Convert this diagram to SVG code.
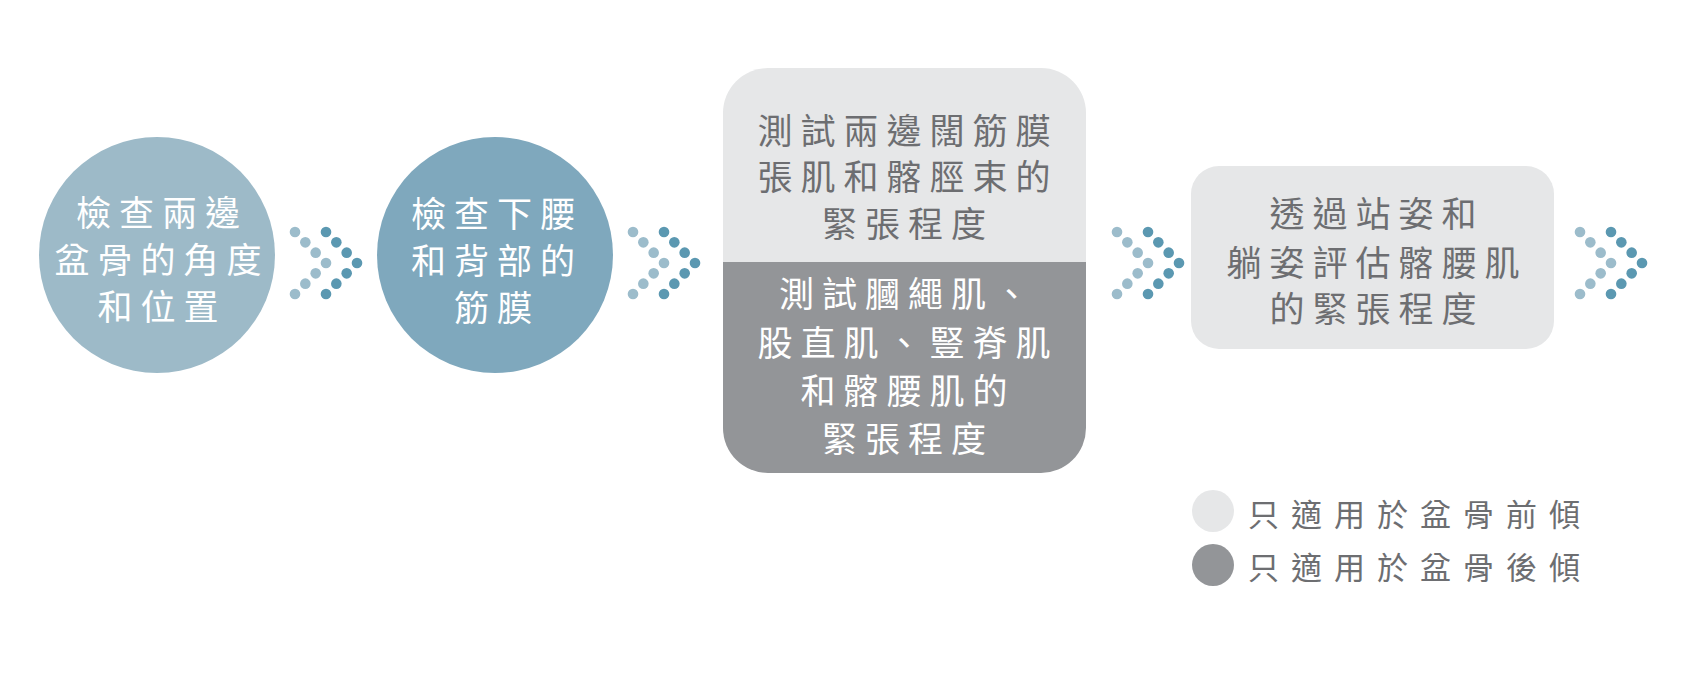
<svg xmlns="http://www.w3.org/2000/svg" xmlns:xlink="http://www.w3.org/1999/xlink" width="1706" height="674" viewBox="0 0 1706 674">
<style>
text{font-family:"Noto Sans CJK TC","Noto Sans CJK SC",sans-serif;font-size:35px;letter-spacing:8px;text-anchor:middle}
.w{fill:#ffffff}
.g{fill:#6d6e71}
.lg{font-size:31px;letter-spacing:12px;text-anchor:start;fill:#6d6e71}
.dl{fill:#9cbccb}
.dd{fill:#5b98b1}
</style>
<defs>
<g id="arrow">
<circle class="dl" cx="0" cy="0" r="5.3"/>
<circle class="dl" cx="10.33" cy="10.33" r="5.3"/>
<circle class="dl" cx="20.67" cy="20.67" r="5.3"/>
<circle class="dl" cx="31" cy="31" r="5.3"/>
<circle class="dl" cx="20.67" cy="41.33" r="5.3"/>
<circle class="dl" cx="10.33" cy="51.67" r="5.3"/>
<circle class="dl" cx="0" cy="62" r="5.3"/>
<circle class="dd" cx="31" cy="0" r="5.3"/>
<circle class="dd" cx="41.33" cy="10.33" r="5.3"/>
<circle class="dd" cx="51.67" cy="20.67" r="5.3"/>
<circle class="dd" cx="62" cy="31" r="5.3"/>
<circle class="dd" cx="51.67" cy="41.33" r="5.3"/>
<circle class="dd" cx="41.33" cy="51.67" r="5.3"/>
<circle class="dd" cx="31" cy="62" r="5.3"/>
</g>
<clipPath id="midclip"><rect x="723" y="68" width="363" height="405" rx="45" ry="45"/></clipPath>
</defs>
<rect width="1706" height="674" fill="#ffffff"/>

<g id="node1">
<circle cx="157" cy="255" r="118" fill="#9dbac8"/>
<text class="w" x="162" y="226">檢查兩邊</text>
<text class="w" x="162" y="273">盆骨的角度</text>
<text class="w" x="162" y="320">和位置</text>
</g>

<g id="node2">
<circle cx="495" cy="255" r="118" fill="#7fa8bd"/>
<text class="w" x="497" y="227">檢查下腰</text>
<text class="w" x="497" y="274">和背部的</text>
<text class="w" x="497" y="321">筋膜</text>
</g>

<g id="node3">
<g clip-path="url(#midclip)">
<rect x="723" y="68" width="363" height="194" fill="#e6e7e8"/>
<rect x="723" y="262" width="363" height="211" fill="#939598"/>
</g>
<text class="g" x="908" y="144">測試兩邊闊筋膜</text>
<text class="g" x="908" y="190">張肌和髂脛束的</text>
<text class="g" x="908" y="237">緊張程度</text>
<text class="w" x="908" y="307">測試膕繩肌、</text>
<text class="w" x="908" y="356">股直肌、豎脊肌</text>
<text class="w" x="908" y="404">和髂腰肌的</text>
<text class="w" x="908" y="452">緊張程度</text>
</g>

<g id="node4">
<rect x="1191" y="166" width="363" height="183" rx="28" ry="28" fill="#e6e7e8"/>
<text class="g" x="1377" y="227">透過站姿和</text>
<text class="g" x="1377" y="276">躺姿評估髂腰肌</text>
<text class="g" x="1377" y="322">的緊張程度</text>
</g>

<g id="connectors">
<use xlink:href="#arrow" href="#arrow" x="295" y="232"/>
<use xlink:href="#arrow" href="#arrow" x="633" y="232"/>
<use xlink:href="#arrow" href="#arrow" x="1117" y="232"/>
<use xlink:href="#arrow" href="#arrow" x="1580" y="232"/>
</g>

<g id="legend">
<circle cx="1213" cy="511" r="21" fill="#e6e7e8"/>
<text class="lg" x="1248" y="526">只適用於盆骨前傾</text>
<circle cx="1213" cy="565" r="21" fill="#939598"/>
<text class="lg" x="1248" y="579">只適用於盆骨後傾</text>
</g>
</svg>
